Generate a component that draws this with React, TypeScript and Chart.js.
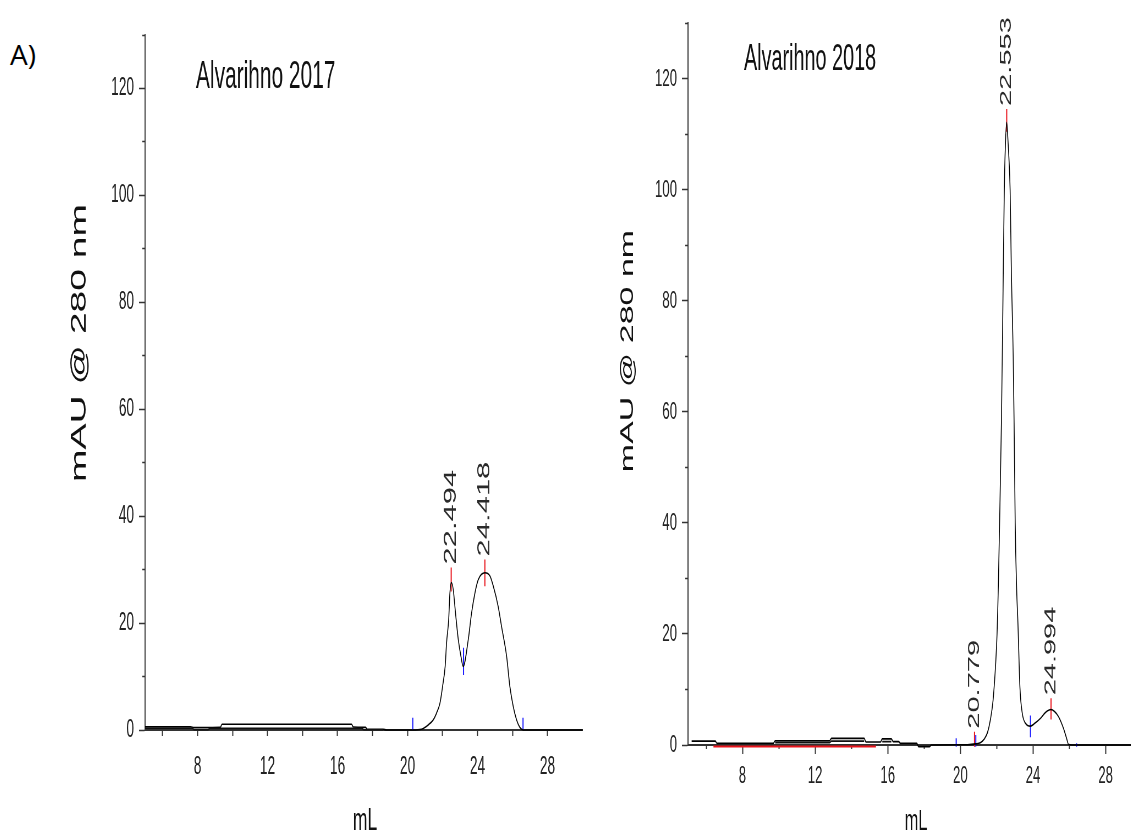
import React, { useEffect, useRef } from 'react';
import { Chart, registerables } from 'chart.js';

Chart.register(...registerables);

// ---------- shared axis data ----------
const xTickValues = [6, 8, 10, 12, 14, 16, 18, 20, 22, 24, 26, 28];
const xMajorValues = [8, 12, 16, 20, 24, 28];
const xMinorValues = [6, 10, 14, 18, 22, 26];
const yTickValues = [0, 20, 40, 60, 80, 100, 120];
const yMinorValues = [10, 30, 50, 70, 90, 110, 130];

// ---------- Alvarihno 2017 (left) ----------
const l17TraceX = [5, 7.6, 7.8, 9.3, 9.4, 16.8, 16.9, 17.6, 17.7, 18.6, 18.8, 20.3, 20.8, 21.2, 21.47, 21.65, 21.85, 22.0, 22.15, 22.23, 22.35, 22.42, 22.5, 22.61, 22.74, 22.9, 23.05, 23.18, 23.47, 23.66, 23.85, 24.04, 24.42, 24.71, 24.9, 25.18, 25.37, 25.66, 25.85, 26.04, 26.23, 26.42, 26.61, 30];
const l17TraceY = [0.6, 0.6, 0.45, 0.5, 1.07, 1.07, 0.55, 0.5, 0.15, 0.15, 0, 0, 0.15, 1.0, 1.9, 3.1, 5.0, 8.1, 11.9, 16.3, 20.6, 25.6, 27.6, 26.3, 21.9, 16.9, 13.8, 11.9, 16.9, 21.9, 25.6, 28.1, 29.4, 28.8, 26.9, 23.1, 19.4, 13.8, 8.1, 4.4, 1.9, 0.5, 0, 0];
const l17LowerX = [5, 7.7, 7.8, 8.6, 8.7, 17.4, 17.5, 18.6];
const l17LowerY = [0.35, 0.35, 0.05, 0.05, 0.3, 0.3, 0.05, 0.05];
const l17PeakX = [22.494, 24.418];
const l17PeakLow = [25.9, 26.9];
const l17PeakHigh = [30.4, 31.9];
const l17CutX = [20.3, 23.2, 26.6];
const l17CutLow = [0, 10.3, 0];
const l17CutHigh = [2.3, 15.4, 2.3];

// ---------- Alvarihno 2018 (right) ----------
const r18TraceX = [5.2, 6.5, 6.6, 9.7, 9.8, 12.8, 12.9, 14.7, 14.8, 15.6, 15.7, 16.2, 16.3, 16.6, 16.7, 17.6, 17.7, 18.3, 18.4, 20.4, 20.85, 21.1, 21.3, 21.5, 21.65, 21.8, 21.95, 22.02, 22.1, 22.16, 22.26, 22.32, 22.37, 22.42, 22.48, 22.55, 22.62, 22.67, 22.74, 22.81, 22.91, 22.96, 23.02, 23.1, 23.17, 23.28, 23.41, 23.59, 23.86, 24.1, 24.41, 24.7, 24.99, 25.2, 25.41, 25.68, 25.85, 25.96, 26.4, 29.4];
const r18TraceY = [0.7, 0.7, 0.3, 0.3, 0.75, 0.75, 1.2, 1.2, 0.55, 0.55, 1.1, 1.1, 0.6, 0.6, 0.3, 0.3, -0.3, -0.3, 0, 0.05, 0.2, 0.4, 1.0, 2.3, 4.5, 8, 15, 20, 30, 40, 58, 73, 87, 100, 108, 112.2, 109, 106, 100, 85, 70, 58, 40, 28, 22, 10.4, 5.7, 3.9, 3.4, 3.9, 4.8, 5.9, 6.4, 6.0, 5.1, 3.0, 1.2, 0.1, 0, 0];
const r18LowerX = [9.8, 12.8, 12.9, 14.7, 14.75, 15.7, 16.2];
const r18LowerY = [0.4, 0.4, 0.7, 0.7, null, 0.6, 0.6];
const r18RedBaseX = [6.4, 15.35];
const r18RedBaseY = [-0.25, -0.25];
const r18PeakX = [20.779, 22.553, 24.994];
const r18PeakLow = [-0.3, 110.5, 4.6];
const r18PeakHigh = [2.4, 114.6, 8.4];
const r18CutX = [19.77, 20.85, 23.86, 26.4];
const r18CutLow = [-0.3, -0.3, 1.4, -0.3];
const r18CutHigh = [1.2, 1.8, 5.3, 0.3];

const S = 0.55; // horizontal squeeze of the whole figure
const FONT = '"Liberation Sans", Arial, sans-serif';

const pairs = (xs: number[], ys: (number | null)[]) => xs.map((x, i) => ({ x, y: ys[i] }));
const marks = (xs: number[], lo: number[], hi: number[]) => {
  const out: any[] = [];
  xs.forEach((x, i) => {
    out.push({ x, y: lo[i] }, { x, y: hi[i] }, { x, y: null });
  });
  return out;
};

type Panel = {
  x0: number; width: number; padTop: number; padRight: number; padBottom: number;
  yAxisWidth: number; xMax: number; tickFont: number; xLabelPad: number;
  xMajorLen: number; xMinorLen: number;
  title: string; titleX: number; titleY: number; titleFont: number;
  yTitleX: number; yTitleY: number; yTitleFont: number;
  xTitleX: number; xTitleY: number; xTitleFont: number;
  labelFont: number;
  traceX: number[]; traceY: number[]; lowerX: number[]; lowerY: (number | null)[];
  peakX: number[]; peakLow: number[]; peakHigh: number[];
  cutX: number[]; cutLow: number[]; cutHigh: number[];
  redX?: number[]; redY?: number[];
};

const leftPanel: Panel = {
  x0: 40, width: 1018, padTop: 35, padRight: 31.6, padBottom: 47, yAxisWidth: 191, xMax: 30,
  tickFont: 25, xLabelPad: 16, xMajorLen: 6, xMinorLen: 6,
  title: 'Alvarihno 2017', titleX: 283.6, titleY: 78, titleFont: 38,
  yTitleX: 72.7, yTitleY: 343, yTitleFont: 39,
  xTitleX: 590.9, xTitleY: 821, xTitleFont: 32,
  labelFont: 31,
  traceX: l17TraceX, traceY: l17TraceY, lowerX: l17LowerX, lowerY: l17LowerY,
  peakX: l17PeakX, peakLow: l17PeakLow, peakHigh: l17PeakHigh,
  cutX: l17CutX, cutLow: l17CutLow, cutHigh: l17CutHigh,
};

const rightPanel: Panel = {
  x0: 600, width: 966, padTop: 13, padRight: 0.5, padBottom: 32, yAxisWidth: 160, xMax: 29.4,
  tickFont: 24, xLabelPad: 8, xMajorLen: 9, xMinorLen: 4,
  title: 'Alvarihno 2018', titleX: 261.8, titleY: 60, titleFont: 36,
  yTitleX: 50.9, yTitleY: 351, yTitleFont: 34,
  xTitleX: 574.5, xTitleY: 822, xTitleFont: 30,
  labelFont: 29,
  traceX: r18TraceX, traceY: r18TraceY, lowerX: r18LowerX, lowerY: r18LowerY,
  peakX: r18PeakX, peakLow: r18PeakLow, peakHigh: r18PeakHigh,
  cutX: r18CutX, cutLow: r18CutLow, cutHigh: r18CutHigh,
  redX: r18RedBaseX, redY: r18RedBaseY,
};

const textPlugin = (p: Panel) => ({
  id: 'panelText',
  afterDatasetsDraw(chart: any) {
    const { ctx, scales } = chart;
    const x = scales.x, y = scales.y;
    ctx.save();
    ctx.fillStyle = '#111';
    ctx.textBaseline = 'middle';
    ctx.font = `${p.titleFont}px ${FONT}`;
    ctx.textAlign = 'left';
    ctx.fillText(p.title, p.titleX, p.titleY);
    ctx.font = `${p.xTitleFont}px ${FONT}`;
    ctx.textAlign = 'center';
    ctx.fillText('mL', p.xTitleX, p.xTitleY);
    ctx.save();
    ctx.translate(p.yTitleX, p.yTitleY);
    ctx.rotate(-Math.PI / 2);
    ctx.font = `${p.yTitleFont}px ${FONT}`;
    ctx.textAlign = 'center';
    ctx.fillText('mAU @ 280 nm', 0, 0);
    ctx.restore();
    ctx.fillStyle = '#2a2a2a';
    ctx.font = `${p.labelFont}px ${FONT}`;
    p.peakX.forEach((v, i) => {
      const px = x.getPixelForValue(v);
      const py = y.getPixelForValue(p.peakHigh[i]) - 3;
      ctx.save();
      ctx.translate(px, py);
      ctx.rotate(-Math.PI / 2);
      ctx.textAlign = 'left';
      ctx.textBaseline = 'middle';
      ctx.fillText(v.toFixed(3), 0, 0);
      ctx.restore();
    });
    ctx.restore();
  },
});

function makeConfig(p: Panel): any {
  const datasets: any[] = [
    { data: pairs(p.lowerX, p.lowerY), borderColor: '#111', borderWidth: 1.6, pointRadius: 0, tension: 0, clip: false },
    { data: pairs(p.traceX, p.traceY), borderColor: '#000', borderWidth: 1.6, pointRadius: 0, cubicInterpolationMode: 'monotone', clip: false },
  ];
  if (p.redX && p.redY) {
    datasets.push({ data: pairs(p.redX, p.redY), borderColor: '#e8141c', borderWidth: 2, pointRadius: 0, clip: false });
  }
  datasets.push(
    { data: marks(p.peakX, p.peakLow, p.peakHigh), borderColor: '#e8141c', borderWidth: 2, pointRadius: 0, clip: false },
    { data: marks(p.cutX, p.cutLow, p.cutHigh), borderColor: '#1a1aff', borderWidth: 2, pointRadius: 0, clip: false },
  );
  const tickFont = { family: FONT, size: p.tickFont };
  return {
    type: 'line',
    data: { datasets },
    options: {
      responsive: false,
      animation: false,
      events: [],
      layout: { padding: { left: 0, top: p.padTop, right: p.padRight, bottom: p.padBottom } },
      plugins: { legend: { display: false }, tooltip: { enabled: false }, title: { display: false } },
      scales: {
        x: {
          type: 'linear', min: 5, max: p.xMax, weight: 0,
          afterFit: (s: any) => { s.height = 60; },
          afterBuildTicks: (s: any) => { s.ticks = xMajorValues.map((v) => ({ value: v })); },
          ticks: { font: tickFont, color: '#222', padding: p.xLabelPad, autoSkip: false, maxRotation: 0 },
          grid: { drawOnChartArea: false, drawTicks: true, tickLength: p.xMajorLen, tickWidth: 2, tickColor: '#333' },
          border: { display: true, color: '#333', width: 2 },
        },
        xMinor: {
          type: 'linear', position: 'bottom', min: 5, max: p.xMax, weight: -1,
          afterFit: (s: any) => { s.height = 0; },
          afterBuildTicks: (s: any) => { s.ticks = xMinorValues.map((v) => ({ value: v })); },
          ticks: { display: false },
          grid: { drawOnChartArea: false, drawTicks: true, tickLength: p.xMinorLen, tickWidth: 2, tickColor: '#333' },
          border: { display: false },
        },
        y: {
          type: 'linear', min: 0, max: 130, weight: 0,
          afterFit: (s: any) => { s.width = p.yAxisWidth; },
          afterBuildTicks: (s: any) => { s.ticks = yTickValues.map((v) => ({ value: v })); },
          ticks: { font: tickFont, color: '#222', padding: 9 },
          grid: { drawOnChartArea: false, drawTicks: true, tickLength: 11, tickWidth: 1.5, tickColor: '#333' },
          border: { display: true, color: '#333', width: 2 },
        },
        yMinor: {
          type: 'linear', position: 'left', min: 0, max: 130, weight: -1,
          afterFit: (s: any) => { s.width = 0; },
          afterBuildTicks: (s: any) => { s.ticks = yMinorValues.map((v) => ({ value: v })); },
          ticks: { display: false },
          grid: { drawOnChartArea: false, drawTicks: true, tickLength: 5, tickWidth: 1.5, tickColor: '#333' },
          border: { display: false },
        },
      },
    },
    plugins: [textPlugin(p)],
  };
}

function PanelChart({ p }: { p: Panel }) {
  const ref = useRef<HTMLCanvasElement>(null);
  useEffect(() => {
    const c = new Chart(ref.current as HTMLCanvasElement, makeConfig(p));
    return () => c.destroy();
  }, [p]);
  return (
    <canvas
      ref={ref}
      width={p.width}
      height={837}
      style={{
        position: 'absolute', left: p.x0, top: 0, width: p.width, height: 837,
        transform: `scaleX(${S})`, transformOrigin: '0 0',
      }}
    />
  );
}

export default function App() {
  return (
    <div style={{ position: 'fixed', left: 0, top: 0, width: 1131, height: 837, overflow: 'hidden', background: '#fff' }}>
      <PanelChart p={leftPanel} />
      <PanelChart p={rightPanel} />
      <div style={{ position: 'absolute', left: 10, top: 40, fontFamily: '"Open Sans", sans-serif', fontSize: 28, lineHeight: '28px', color: '#000' }}>A)</div>
    </div>
  );
}
